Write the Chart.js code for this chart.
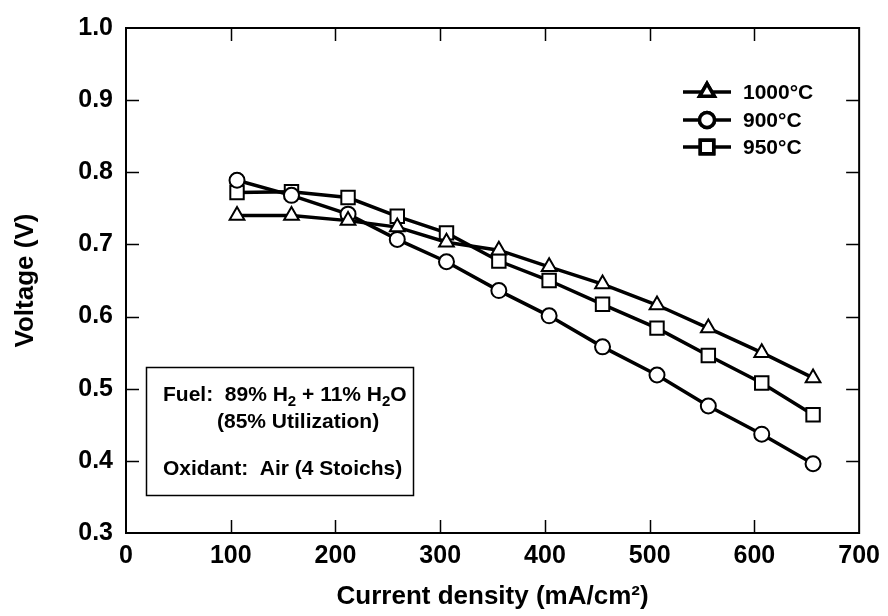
<!DOCTYPE html>
<html><head><meta charset="utf-8">
<script src="https://cdn.jsdelivr.net/npm/chart.js@4/dist/chart.umd.min.js"></script>
<style>html,body{margin:0;padding:0;background:#fff}canvas{display:block}</style>
</head><body>
<canvas id="c" width="888" height="616"></canvas>
<script>
// ---- data ----
const currentDensity = [106, 158, 212, 259, 306, 356, 404, 455, 507, 556, 607, 656];
const v1000 = [0.740, 0.740, 0.733, 0.724, 0.703, 0.692, 0.669, 0.645, 0.616, 0.584, 0.550, 0.515];
const v900  = [0.789, 0.768, 0.742, 0.707, 0.676, 0.636, 0.601, 0.558, 0.519, 0.476, 0.437, 0.396];
const v950  = [0.772, 0.773, 0.765, 0.739, 0.716, 0.677, 0.650, 0.617, 0.584, 0.546, 0.508, 0.464];
const seriesLabels = ['1000°C', '900°C', '950°C'];
const xTickValues = [0, 100, 200, 300, 400, 500, 600, 700];
const yTickValues = [0.3, 0.4, 0.5, 0.6, 0.7, 0.8, 0.9, 1.0];
const xTitle = 'Current density (mA/cm²)';
const yTitle = 'Voltage (V)';

const FONT = '"Liberation Sans", Arial, Helvetica, sans-serif';
Chart.defaults.font.family = FONT;
Chart.defaults.color = '#000';

const styles = [
  {pointStyle: 'triangle', radius: 8.5},
  {pointStyle: 'circle', radius: 7.5},
  {pointStyle: 'rect', radius: 9.5}
];
const seriesValues = [v1000, v900, v950];

const datasets = seriesValues.map((vals, i) => ({
  label: seriesLabels[i],
  data: currentDensity.map((x, j) => ({x: x, y: vals[j]})),
  borderColor: '#000',
  backgroundColor: '#fff',
  borderWidth: 3.5,
  tension: 0,
  pointStyle: styles[i].pointStyle,
  pointRadius: styles[i].radius,
  pointHoverRadius: styles[i].radius,
  pointBorderWidth: 2,
  pointBorderColor: '#000',
  pointBackgroundColor: '#fff'
}));

function drawRich(ctx, x, y, parts, size) {
  let cx = x;
  for (const p of parts) {
    const isSub = p.sub;
    ctx.font = 'bold ' + (isSub ? Math.round(size * 0.7) : size) + 'px ' + FONT;
    ctx.fillText(p.t, cx, y + (isSub ? size * 0.22 : 0));
    cx += ctx.measureText(p.t).width;
  }
}

const decor = {
  id: 'decor',
  afterDatasetsDraw(chart) {
    const ctx = chart.ctx;
    const a = chart.chartArea;
    const xs = chart.scales.x, ys = chart.scales.y;
    ctx.save();
    ctx.strokeStyle = '#000';
    ctx.fillStyle = '#000';
    // frame
    ctx.lineWidth = 2;
    ctx.strokeRect(a.left, a.top, a.right - a.left, a.bottom - a.top);
    // inward ticks
    const tl = 13;
    ctx.lineWidth = 1.5;
    ctx.beginPath();
    xTickValues.slice(1, -1).forEach(v => {
      const px = Math.round(xs.getPixelForValue(v)) + 0.5;
      ctx.moveTo(px, a.bottom); ctx.lineTo(px, a.bottom - tl);
      ctx.moveTo(px, a.top); ctx.lineTo(px, a.top + tl);
    });
    yTickValues.slice(1, -1).forEach(v => {
      const py = Math.round(ys.getPixelForValue(v)) + 0.5;
      ctx.moveTo(a.left, py); ctx.lineTo(a.left + tl, py);
      ctx.moveTo(a.right, py); ctx.lineTo(a.right - tl, py);
    });
    ctx.stroke();

    // legend
    const lx0 = 683, lx1 = 731, mx = 707, tx = 743;
    const rows = [92, 120, 147];
    chart.data.datasets.forEach((ds, i) => {
      const y = rows[i];
      ctx.lineWidth = 3.5;
      ctx.beginPath(); ctx.moveTo(lx0, y); ctx.lineTo(lx1, y); ctx.stroke();
      ctx.fillStyle = '#fff';
      Chart.helpers.drawPoint(ctx, {pointStyle: ds.pointStyle, radius: ds.pointRadius, borderWidth: 2, rotation: 0}, mx, y);
      ctx.fill(); ctx.stroke();
      ctx.fillStyle = '#000';
      ctx.font = 'bold 21px ' + FONT;
      ctx.textBaseline = 'middle';
      ctx.textAlign = 'left';
      ctx.fillText(ds.label, tx, y + 1);
    });

    // annotation box
    ctx.lineWidth = 1.5;
    ctx.strokeRect(146.5, 367.5, 267, 128);
    ctx.textBaseline = 'alphabetic';
    ctx.textAlign = 'left';
    ctx.fillStyle = '#000';
    drawRich(ctx, 163, 401, [{t: 'Fuel:  89% H'}, {t: '2', sub: true}, {t: ' + 11% H'}, {t: '2', sub: true}, {t: 'O'}], 21);
    drawRich(ctx, 217, 428, [{t: '(85% Utilization)'}], 21);
    drawRich(ctx, 163, 475, [{t: 'Oxidant:  Air (4 Stoichs)'}], 21);
    ctx.restore();
  }
};

new Chart(document.getElementById('c'), {
  type: 'line',
  data: {datasets},
  options: {
    responsive: false,
    animation: false,
    layout: {padding: {top: 21, right: 22, left: 0, bottom: 0}},
    plugins: {legend: {display: false}, tooltip: {enabled: false}},
    scales: {
      x: {
        type: 'linear', min: 0, max: 700,
        afterBuildTicks: s => { s.ticks = xTickValues.map(v => ({value: v})); },
        ticks: {font: {size: 25, weight: 'bold'}, color: '#000', padding: 8, maxRotation: 0, callback: v => String(v)},
        grid: {display: false, drawTicks: false},
        border: {display: false},
        title: {display: true, text: xTitle, font: {size: 26, weight: 'bold'}, color: '#000', padding: {top: 0, bottom: 4}},
        afterFit: s => { s.height = 83; }
      },
      y: {
        type: 'linear', min: 0.3, max: 1.0,
        afterBuildTicks: s => { s.ticks = yTickValues.map(v => ({value: v})); },
        ticks: {font: {size: 25, weight: 'bold'}, color: '#000', padding: 13, callback: v => Number(v).toFixed(1)},
        grid: {display: false, drawTicks: false},
        border: {display: false},
        title: {display: true, text: yTitle, font: {size: 26, weight: 'bold'}, color: '#000', padding: {top: 10, bottom: 0}},
        afterFit: s => { s.width = 126; }
      }
    }
  },
  plugins: [decor]
});
</script>
</body></html>
